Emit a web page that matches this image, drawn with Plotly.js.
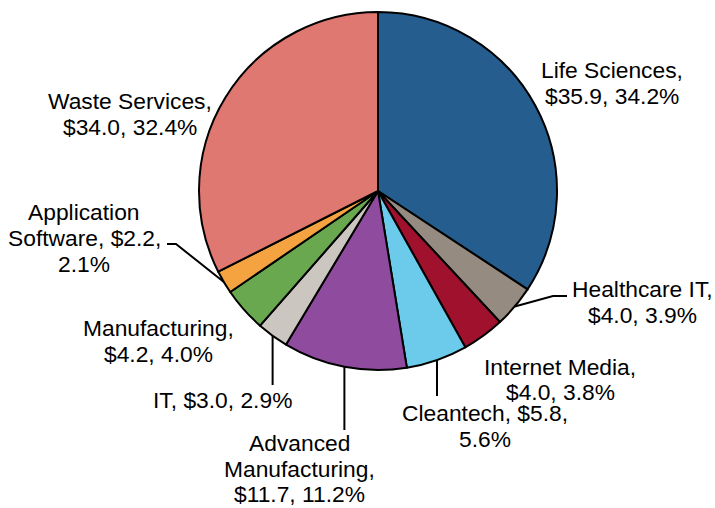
<!DOCTYPE html>
<html>
<head>
<meta charset="utf-8">
<script src="https://cdn.plot.ly/plotly-3.0.1.min.js"></script>
<style>html,body{margin:0;padding:0;background:#fff;}#chart{width:715px;height:508px;}</style>
</head>
<body>
<div id="chart"></div>
<script>
// ---- data ----
const categories = ["Life Sciences", "Healthcare IT", "Internet Media", "Cleantech", "Advanced Manufacturing", "IT", "Manufacturing", "Application Software", "Waste Services"];
const values = [35.9, 4.0, 4.0, 5.8, 11.7, 3.0, 4.2, 2.2, 34.0];
const percents = [34.2, 3.9, 3.8, 5.6, 11.2, 2.9, 4.0, 2.1, 32.4];
const labelLines = [
  ["Life Sciences,", "$35.9, 34.2%"],
  ["Healthcare IT,", "$4.0, 3.9%"],
  ["Internet Media,", "$4.0, 3.8%"],
  ["Cleantech, $5.8,", "5.6%"],
  ["Advanced", "Manufacturing,", "$11.7, 11.2%"],
  ["IT, $3.0, 2.9%"],
  ["Manufacturing,", "$4.2, 4.0%"],
  ["Application", "Software, $2.2,", "2.1%"],
  ["Waste Services,", "$34.0, 32.4%"]
];

// ---- style / layout ----
const colors = ["#255E8E", "#968B80", "#A0112E", "#6CCBEA", "#8F4B9E", "#CBC6C0", "#6AA84F", "#F4A340", "#E07872"];
const W = 715, H = 508;
const cx = 378, cy = 191, R = 179;
const FONT = "Arial, 'Liberation Sans', sans-serif";
const FSIZE = 22.8;
const LINE_GAP = 25.7;
// label: [centre x, first line centre y] (px)
const labelPos = [[612, 70.3], [642, 289], [560, 366.7], [485, 413], [299, 443], [222.7, 400], [158.6, 328], [84, 212.5], [130, 101.3]];
// leader elbows: null = no leader; otherwise [elbowX|null(same x), elbowY, endX|null]
const leaders = [null, [553, 296, 567], null, [null, 396, null], [null, 430, null], [null, 385, null], null, [176, 244, 167], null];

const px = x => x / W;
const py = y => 1 - y / H;

const trace = {
  type: "pie",
  values: values,
  labels: categories,
  sort: false,
  direction: "clockwise",
  rotation: 0,
  textinfo: "none",
  hoverinfo: "label+value+percent",
  marker: {colors: colors, line: {color: "#000", width: 2}},
  domain: {x: [px(cx - R), px(cx + R)], y: [py(cy + R), py(cy - R)]},
  showlegend: false
};

const total = values.reduce((a, b) => a + b, 0);
const shapes = [];
let cum = 0;
values.forEach((v, i) => {
  const mid = (cum + v / 2) / total * 2 * Math.PI;
  cum += v;
  const L = leaders[i];
  if (!L) return;
  const sx = cx + R * Math.sin(mid), sy = cy - R * Math.cos(mid);
  const ex = L[0] === null ? sx : L[0];
  const ey = L[1];
  let path = `M ${px(sx)} ${py(sy)} L ${px(ex)} ${py(ey)}`;
  if (L[2] !== null) path += ` L ${px(L[2])} ${py(ey)}`;
  shapes.push({type: "path", xref: "paper", yref: "paper", path: path, line: {color: "#000", width: 2}});
});

const annotations = [];
categories.forEach((c, i) => {
  labelLines[i].forEach((t, k) => {
    annotations.push({
      xref: "paper", yref: "paper",
      x: px(labelPos[i][0]), y: py(labelPos[i][1] + k * LINE_GAP),
      xanchor: "center", yanchor: "middle",
      text: t,
      showarrow: false,
      align: "center",
      font: {family: FONT, size: FSIZE, color: "#000"}
    });
  });
});

const layout = {
  width: W, height: H,
  margin: {l: 0, r: 0, t: 0, b: 0},
  paper_bgcolor: "#fff",
  shapes: shapes,
  annotations: annotations,
  font: {family: FONT}
};

Plotly.newPlot("chart", [trace], layout, {displayModeBar: false, staticPlot: true});
</script>
</body>
</html>
